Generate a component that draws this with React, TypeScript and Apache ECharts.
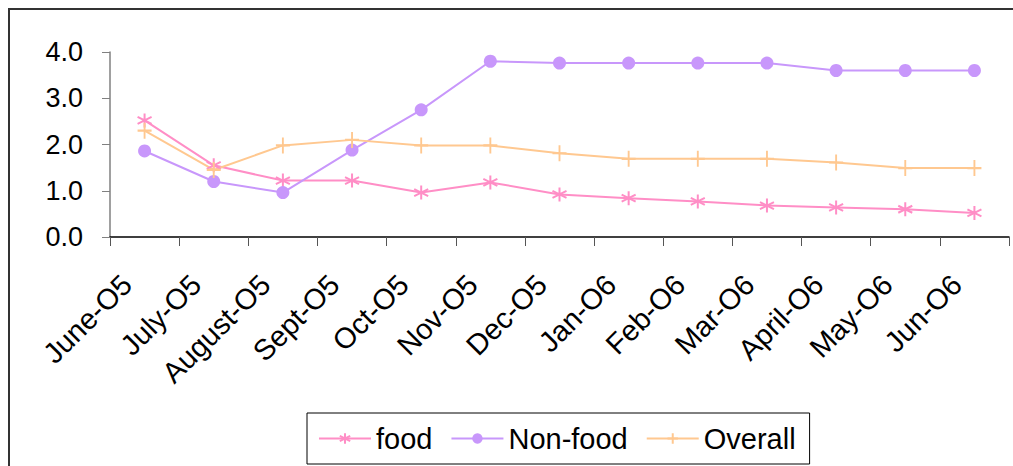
import React, { useEffect, useRef } from "react";
import * as echarts from "echarts";

const months = [
  "June-O5", "July-O5", "August-O5", "Sept-O5", "Oct-O5", "Nov-O5", "Dec-O5",
  "Jan-O6", "Feb-O6", "Mar-O6", "April-O6", "May-O6", "Jun-O6",
];
const food = [2.52, 1.55, 1.22, 1.22, 0.96, 1.18, 0.92, 0.84, 0.77, 0.68, 0.64, 0.6, 0.52];
const nonFood = [1.86, 1.2, 0.96, 1.88, 2.75, 3.8, 3.76, 3.76, 3.76, 3.76, 3.6, 3.6, 3.6];
const overall = [2.3, 1.45, 1.98, 2.1, 1.98, 1.98, 1.81, 1.69, 1.69, 1.69, 1.61, 1.49, 1.49];

const FONT = "Liberation Sans";
const PINK = "#ff8ec6";
const LILAC = "#c897fb";
const PEACH = "#ffc890";

// stroked marker shapes
const ASTERISK = "path://M0,-10 L0,10 M-8.66,-5 L8.66,5 M-8.66,5 L8.66,-5";
const PLUS = "path://M0,-10 L0,10 M-8,0 L8,0";

export default function App() {
  const ref = useRef<HTMLDivElement>(null);

  useEffect(() => {
    if (!ref.current) return;
    const chart = echarts.init(ref.current, undefined, { renderer: "svg" });
    chart.setOption({
      animation: false,
      backgroundColor: "#ffffff",
      graphic: [
        {
          type: "rect",
          shape: { x: 9, y: 9, width: 1012, height: 470 },
          style: { fill: "none", stroke: "#333333", lineWidth: 2 },
          silent: true,
        },
      ],
      grid: { left: 110, right: 4, top: 52, bottom: 229, containLabel: false },
      legend: {
        left: 307,
        top: 413,
        padding: [11, 14, 11, 11],
        itemGap: 18,
        itemWidth: 52,
        itemHeight: 13,
        borderColor: "#000000",
        borderWidth: 1,
        backgroundColor: "#ffffff",
        textStyle: { fontFamily: FONT, fontSize: 29, color: "#000000" },
        data: ["food", "Non-food", "Overall"],
      },
      xAxis: {
        type: "category",
        data: months,
        boundaryGap: true,
        axisLine: { lineStyle: { color: "#000000", width: 1.5 } },
        axisTick: { show: true, length: 9, lineStyle: { color: "#555555" } },
        axisLabel: {
          rotate: 45,
          interval: 0,
          margin: 25,
          padding: [0, 25, 0, 0],
          fontFamily: FONT,
          fontSize: 29,
          color: "#000000",
        },
      },
      yAxis: {
        type: "value",
        min: 0,
        max: 4,
        interval: 1,
        splitLine: { show: false },
        axisLine: { show: true, lineStyle: { color: "#808080", width: 1.5 } },
        axisTick: { show: true, length: 8, lineStyle: { color: "#808080" } },
        axisLabel: {
          margin: 27,
          fontFamily: FONT,
          fontSize: 27,
          color: "#000000",
          formatter: (v: number) => v.toFixed(1),
        },
      },
      series: [
        {
          name: "food",
          type: "line",
          data: food,
          color: PINK,
          lineStyle: { color: PINK, width: 2 },
          symbol: ASTERISK,
          symbolSize: 14,
          itemStyle: { color: "none", borderColor: PINK, borderWidth: 2 },
        },
        {
          name: "Non-food",
          type: "line",
          data: nonFood,
          color: LILAC,
          lineStyle: { color: LILAC, width: 2 },
          symbol: "circle",
          symbolSize: 13,
          itemStyle: { color: LILAC, borderWidth: 0 },
        },
        {
          name: "Overall",
          type: "line",
          data: overall,
          color: PEACH,
          lineStyle: { color: PEACH, width: 2 },
          symbol: PLUS,
          symbolSize: [14, 16],
          itemStyle: { color: "none", borderColor: PEACH, borderWidth: 2 },
        },
      ],
    });
    return () => chart.dispose();
  }, []);

  return (
    <div
      ref={ref}
      style={{ position: "absolute", left: 0, top: 0, width: 1013, height: 466 }}
    />
  );
}
